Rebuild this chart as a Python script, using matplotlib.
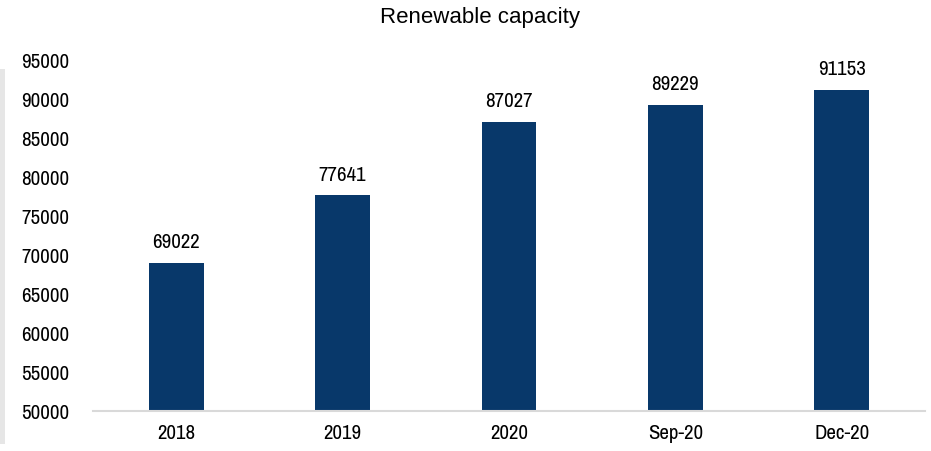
import matplotlib
matplotlib.use("Agg")
import matplotlib.pyplot as plt
from matplotlib.patches import Rectangle
from matplotlib import font_manager

categories = ["2018", "2019", "2020", "Sep-20", "Dec-20"]
values = [69022, 77641, 87027, 89229, 91153]
yticks = [50000, 55000, 60000, 65000, 70000, 75000, 80000, 85000, 90000, 95000]

# find a condensed font if one is installed
names = sorted({f.name for f in font_manager.fontManager.ttflist})
narrow = [n for n in names if ('Narrow' in n or 'Condensed' in n)]
if narrow:
    fam = [narrow[0], 'DejaVu Sans']
    fs = 15
else:
    fam = ['Liberation Sans', 'DejaVu Sans']
    fs = 13
plt.rcParams['font.family'] = fam

fig = plt.figure(figsize=(9.31, 4.52), dpi=100)
ax = fig.add_axes([93/931, 1-412/452, (925-93)/931, (412-61)/452])

x = range(len(categories))
ax.bar(x, values, width=0.33, color='#08386A', zorder=2)
for xi, v in zip(x, values):
    ax.text(xi, v + 1500, str(v), ha='center', va='bottom', fontsize=fs, color='#000000')

ax.set_ylim(50000, 95000)
ax.set_xlim(-0.5, len(categories) - 0.5)
ax.set_yticks(yticks)
ax.set_yticklabels([str(t) for t in yticks], fontsize=fs)
ax.set_xticks(list(x))
ax.set_xticklabels(categories, fontsize=fs)
ax.tick_params(axis='y', length=0, pad=17)
ax.tick_params(axis='x', length=0, pad=9)
for s in ['top', 'right', 'left']:
    ax.spines[s].set_visible(False)
ax.spines['bottom'].set_color('#D9D9D9')
ax.spines['bottom'].set_linewidth(1.5)

fig.text(480/931, 1-17/452, "Renewable capacity", ha='center', va='center', fontsize=16,
         family=['Liberation Sans', 'DejaVu Sans'])

fig.patches.append(Rectangle((0, 1-445/452), 5/931, (445-70)/452, transform=fig.transFigure,
                             facecolor='#E6E6E6', edgecolor='none'))

fig.savefig("out.png", dpi=100)
